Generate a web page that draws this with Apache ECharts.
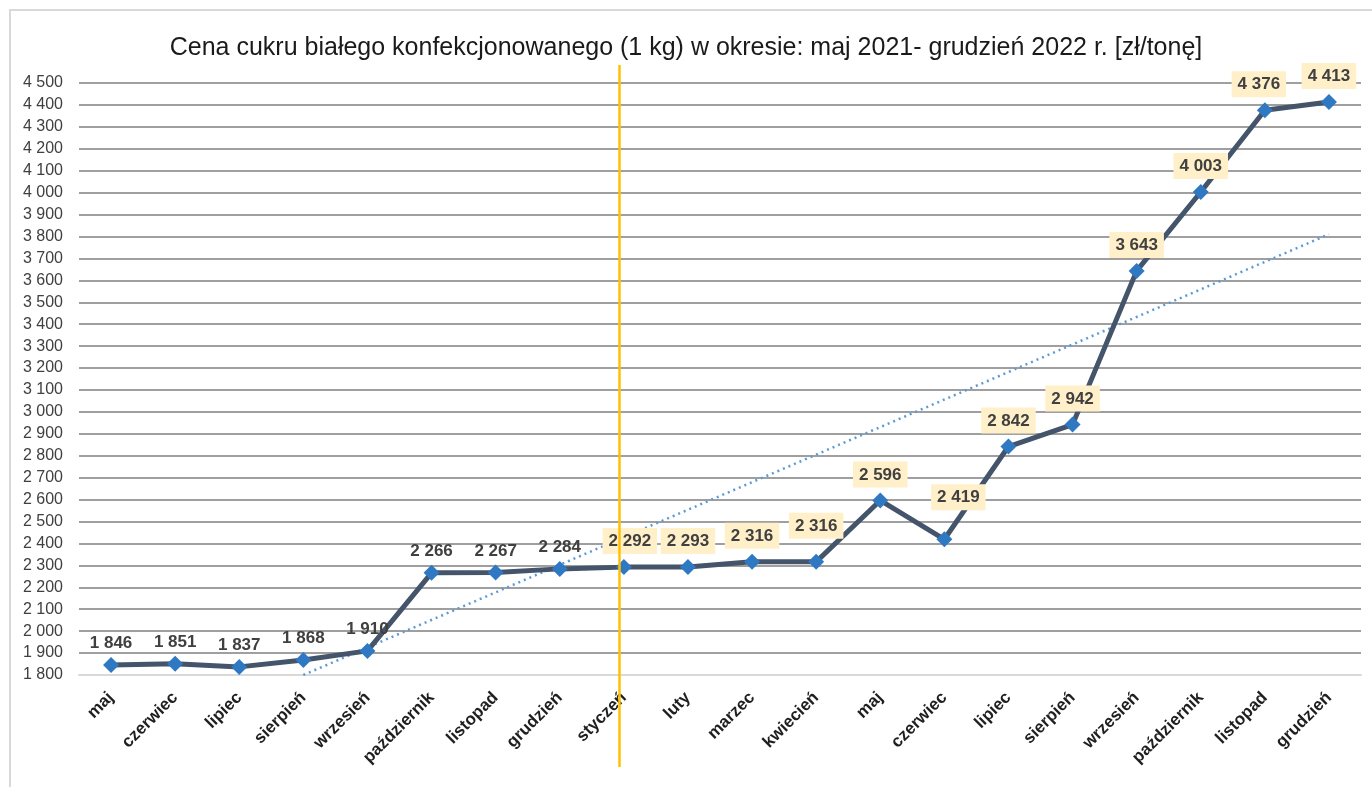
<!DOCTYPE html>
<html>
<head>
<meta charset="utf-8">
<script src="https://cdn.jsdelivr.net/npm/echarts@6/dist/echarts.min.js"></script>
<style>
  html, body { margin: 0; padding: 0; background: #fff; }
  #frame { position: absolute; left: 9px; top: 9px; width: 1400px; height: 776px;
           border-left: 2px solid #d9d9d9; border-top: 2px solid #d9d9d9; border-bottom: 2px solid #d9d9d9; }
  #chart { position: absolute; left: 0; top: 0; width: 1372px; height: 787px; }
</style>
</head>
<body>
<div id="frame"></div>
<div id="chart"></div>
<script>
const months = ['maj', 'czerwiec', 'lipiec', 'sierpień', 'wrzesień', 'październik', 'listopad', 'grudzień',
  'styczeń', 'luty', 'marzec', 'kwiecień', 'maj', 'czerwiec', 'lipiec', 'sierpień', 'wrzesień',
  'październik', 'listopad', 'grudzień']
const prices = [1846, 1851, 1837, 1868, 1910, 2266, 2267, 2284, 2292, 2293, 2316, 2316, 2596, 2419,
  2842, 2942, 3643, 4003, 4376, 4413]
// trend line: starts at sierpień, ends at grudzień 2022
const trend = [null, null, null, 1800, null, null, null, null, null, null, null, null, null, null,
  null, null, null, null, null, 3810]
const yearStartIndex = 8 // styczeń 2022

const labelOffsets = { 8: [6, 0], 11: [0, -10], 13: [14, -16], 18: [-6, 0] }

const fmt = (v) => String(v).replace(/\B(?=(\d{3})+(?!\d))/g, ' ')
const font = 'Liberation Sans'

const chart = echarts.init(document.getElementById('chart'))

const priceData = prices.map((v, i) => {
  const label = { offset: labelOffsets[i] || [0, 0] }
  if (i >= yearStartIndex) {
    label.backgroundColor = '#fff0c9'
    label.padding = [5, 6, 4, 6]
  }
  return { value: v, label }
})

chart.setOption({
  animation: false,
  textStyle: { fontFamily: font },
  title: {
    text: 'Cena cukru białego konfekcjonowanego (1 kg) w okresie: maj 2021- grudzień 2022 r. [zł/tonę]',
    left: 'center',
    top: 31,
    textStyle: { fontFamily: font, fontSize: 25, fontWeight: 'normal', color: '#1a1a1a' },
  },
  grid: [
    { left: 79, right: 11, top: 83, bottom: 112 },
    { left: 74, right: 16, top: 65, bottom: 20 },
  ],
  xAxis: [
    {
      type: 'category',
      data: months,
      axisLine: { lineStyle: { color: '#d9d9d9', width: 2 } },
      axisTick: { show: false },
      axisLabel: {
        rotate: 45, interval: 0, margin: 20,
        fontFamily: font, fontSize: 17, fontWeight: 'bold', color: '#1f1f1f',
      },
    },
    { type: 'category', gridIndex: 1, data: months, show: false },
  ],
  yAxis: [
    {
      type: 'value',
      min: 1800,
      max: 4500,
      interval: 100,
      axisLine: { show: false },
      axisTick: { show: false },
      axisLabel: { formatter: fmt, fontFamily: font, fontSize: 16, color: '#404040', margin: 16 },
      splitLine: { showMinLine: false, lineStyle: { color: '#7f7f7f', width: 1.5 } },
    },
    { type: 'value', gridIndex: 1, show: false, min: 0, max: 1 },
  ],
  series: [
    {
      type: 'line',
      data: trend,
      connectNulls: true,
      showSymbol: false,
      symbol: 'none',
      lineStyle: { color: '#5b9bd5', width: 2.5, type: [2, 4] },
      silent: true,
      z: 1,
    },
    {
      type: 'line',
      data: priceData,
      symbol: 'diamond',
      symbolSize: 16,
      itemStyle: { color: '#2f78c2' },
      lineStyle: { color: '#44546a', width: 5 },
      label: {
        show: true,
        position: 'top',
        distance: 5,
        formatter: (p) => fmt(p.value),
        fontFamily: font,
        fontSize: 17,
        fontWeight: 'bold',
        color: '#404040',
      },
      z: 3,
    },
    {
      type: 'line',
      xAxisIndex: 1,
      yAxisIndex: 1,
      data: months.map(() => null),
      symbol: 'none',
      silent: true,
      markLine: {
        symbol: 'none',
        silent: true,
        label: { show: false },
        lineStyle: { color: '#ffc000', width: 2.5, type: 'solid' },
        data: [{ xAxis: yearStartIndex }],
      },
    },
  ],
})
</script>
</body>
</html>
